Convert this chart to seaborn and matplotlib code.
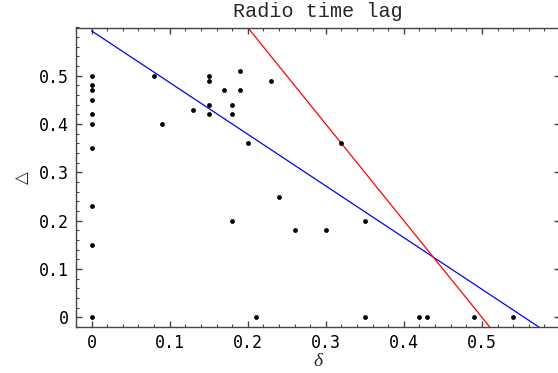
import matplotlib
matplotlib.use("Agg")
import matplotlib.pyplot as plt
from matplotlib.ticker import MultipleLocator, FixedLocator
import numpy as np
import pandas as pd
import seaborn as sns

# --- data ---
delta_small = [0, 0, 0, 0, 0, 0, 0, 0, 0, 0,
               0.08, 0.09, 0.13, 0.15, 0.15, 0.15, 0.15, 0.17, 0.18, 0.18,
               0.18, 0.19, 0.19, 0.20, 0.21, 0.23, 0.24, 0.26, 0.30, 0.32,
               0.35, 0.35, 0.42, 0.43, 0.49, 0.54]
delta_big = [0.50, 0.48, 0.47, 0.45, 0.42, 0.40, 0.35, 0.23, 0.15, 0.0,
             0.50, 0.40, 0.43, 0.50, 0.49, 0.44, 0.42, 0.47, 0.44, 0.42,
             0.20, 0.51, 0.47, 0.36, 0.0, 0.49, 0.25, 0.18, 0.18, 0.36,
             0.20, 0.0, 0.0, 0.0, 0.0, 0.0]
line_names = ["blue", "red"]
line_intercepts = [0.593, 1.0]
line_slopes = [-1.07, -2.0]
line_colors = ["#0000ff", "#ff0000"]
x_ticks = [0, 0.1, 0.2, 0.3, 0.4, 0.5]
y_ticks = [0, 0.1, 0.2, 0.3, 0.4, 0.5]
x_tick_labels = ["0", "0.1", "0.2", "0.3", "0.4", "0.5"]
y_tick_labels = ["0", "0.1", "0.2", "0.3", "0.4", "0.5"]
title = "Radio time lag"

sns.set_style("ticks")
plt.rcParams["font.family"] = ["DejaVu Sans Mono", "DejaVu Sans"]

W, H = 558, 373
fig = plt.figure(figsize=(W / 100, H / 100), dpi=100)
ax = fig.add_axes([76 / W, (H - 327) / H, 484 / W, 299.5 / H])

pts = pd.DataFrame({"delta": delta_small, "Delta": delta_big})
sns.scatterplot(data=pts, x="delta", y="Delta", ax=ax, color="black",
                s=12, linewidth=0, zorder=3)

xs = np.array([0.0, 0.62])
rows = []
for name, b, m in zip(line_names, line_intercepts, line_slopes):
    for xv in xs:
        rows.append({"x": xv, "y": b + m * xv, "line": name})
lines = pd.DataFrame(rows)
sns.lineplot(data=lines, x="x", y="y", hue="line", palette=dict(zip(line_names, line_colors)),
             ax=ax, legend=False, linewidth=0.9, sort=False)

ax.set_xlim(-0.02, 0.6)
ax.set_ylim(-0.02, 0.6)

spine_col = "#444444"
for s in ["left", "bottom", "top"]:
    ax.spines[s].set_color(spine_col)
    ax.spines[s].set_linewidth(1.0)
ax.spines["right"].set_visible(False)

ax.xaxis.set_major_locator(FixedLocator(x_ticks))
ax.yaxis.set_major_locator(FixedLocator(y_ticks))
ax.set_xticklabels(x_tick_labels)
ax.set_yticklabels(y_tick_labels)
ax.xaxis.set_minor_locator(MultipleLocator(0.02))
ax.yaxis.set_minor_locator(MultipleLocator(0.02))
ax.tick_params(which="both", direction="in", top=True, right=True, color=spine_col,
               labelsize=12, labelcolor="black")
ax.tick_params(which="major", length=4, width=1.0, pad=5)
ax.tick_params(which="minor", length=2.2, width=0.8, right=False)

ax.set_xlabel("δ", family=["Liberation Serif"], style="italic", fontsize=14, labelpad=1)
ax.set_ylabel("△", family=["DejaVu Sans"], fontsize=12, labelpad=6)
ax.set_title(title, family=["Liberation Mono"], fontsize=14.5, pad=7.5)

fig.savefig("out.png", dpi=100)
